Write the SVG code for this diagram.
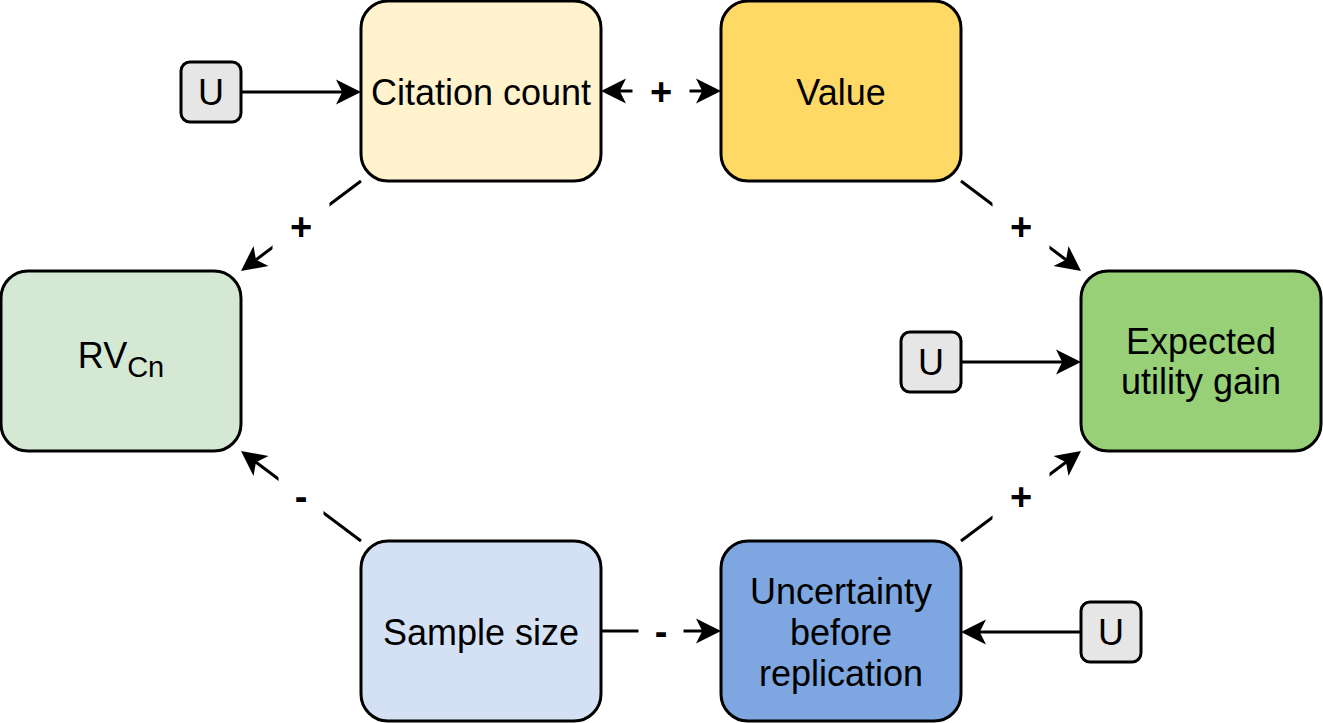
<svg xmlns="http://www.w3.org/2000/svg" width="1323" height="723" viewBox="0 0 1323 723">
  <style>
    .box { stroke: #000; stroke-width: 3; }
    .t { font-family: "Liberation Sans", Arial, sans-serif; font-size: 36px; fill: #000; text-anchor: middle; }
    .edge { stroke: #000; stroke-width: 3; fill: none; }
    .lbl { font-family: "Liberation Sans", Arial, sans-serif; font-size: 38px; font-weight: bold; fill: #000; text-anchor: middle; }
    .lblbg { fill: #fff; }
  </style>
  <defs>
    <marker id="arr" markerUnits="userSpaceOnUse" orient="auto-start-reverse" refX="-18" refY="0" markerWidth="30" markerHeight="30" overflow="visible">
      <path d="M0,0 L-25,-12.5 L-18.75,0 L-25,12.5 Z" fill="#000"/>
    </marker>
  </defs>
  <rect width="1323" height="723" fill="#fff"/>

  <g id="connectors">
    <line class="edge" x1="241" y1="92" x2="343" y2="92" marker-end="url(#arr)"/>
    <line class="edge" x1="619" y1="91" x2="703" y2="91" marker-start="url(#arr)" marker-end="url(#arr)"/>
    <line class="edge" x1="361" y1="181" x2="255.4" y2="260.2" marker-end="url(#arr)"/>
    <line class="edge" x1="961" y1="181" x2="1066.6" y2="260.2" marker-end="url(#arr)"/>
    <line class="edge" x1="361" y1="541" x2="255.4" y2="461.8" marker-end="url(#arr)"/>
    <line class="edge" x1="961" y1="541" x2="1066.6" y2="461.8" marker-end="url(#arr)"/>
    <line class="edge" x1="601" y1="631" x2="703" y2="631" marker-end="url(#arr)"/>
    <line class="edge" x1="961" y1="362" x2="1063" y2="362" marker-end="url(#arr)"/>
    <line class="edge" x1="1081" y1="632" x2="979" y2="632" marker-end="url(#arr)"/>
    <g id="edge-labels">
      <rect class="lblbg" x="632.5" y="66" width="57" height="50"/>
      <text class="lbl" x="661" y="105">+</text>
      <rect class="lblbg" x="272.5" y="201" width="57" height="50"/>
      <text class="lbl" x="301" y="240">+</text>
      <rect class="lblbg" x="992.5" y="201" width="57" height="50"/>
      <text class="lbl" x="1021" y="240">+</text>
      <rect class="lblbg" x="278.5" y="471" width="45" height="50"/>
      <text class="lbl" x="301" y="510">-</text>
      <rect class="lblbg" x="992.5" y="471" width="57" height="50"/>
      <text class="lbl" x="1021" y="510">+</text>
      <rect class="lblbg" x="638.5" y="606" width="45" height="50"/>
      <text class="lbl" x="661" y="645">-</text>
    </g>
  </g>

  <g id="citation-count">
    <rect class="box" x="361" y="1" width="240" height="180" rx="27" fill="#fff2cc"/>
    <text class="t" x="481" y="104.5">Citation count</text>
  </g>
  <g id="value">
    <rect class="box" x="721" y="1" width="240" height="180" rx="27" fill="#ffd966"/>
    <text class="t" x="841" y="104.5">Value</text>
  </g>
  <g id="rv-cn">
    <rect class="box" x="1" y="271" width="240" height="180" rx="27" fill="#d5e8d4"/>
    <text class="t" x="121" y="368">RV<tspan font-size="29" dy="9">Cn</tspan></text>
  </g>
  <g id="expected-utility-gain">
    <rect class="box" x="1081" y="271" width="240" height="180" rx="27" fill="#97d077"/>
    <text class="t" x="1201" y="354">Expected</text>
    <text class="t" x="1201" y="394">utility gain</text>
  </g>
  <g id="sample-size">
    <rect class="box" x="361" y="541" width="240" height="180" rx="27" fill="#d4e1f5"/>
    <text class="t" x="481" y="644.5">Sample size</text>
  </g>
  <g id="uncertainty">
    <rect class="box" x="721" y="541" width="240" height="180" rx="27" fill="#7ea6e0"/>
    <text class="t" x="841" y="603.5">Uncertainty</text>
    <text class="t" x="841" y="644.5">before</text>
    <text class="t" x="841" y="685.5">replication</text>
  </g>
  <g id="u-citation">
    <rect class="box" x="181" y="62" width="60" height="60" rx="9" fill="#e6e6e6"/>
    <text class="t" x="211" y="104.5">U</text>
  </g>
  <g id="u-utility">
    <rect class="box" x="901" y="332" width="60" height="60" rx="9" fill="#e6e6e6"/>
    <text class="t" x="931" y="374.5">U</text>
  </g>
  <g id="u-uncertainty">
    <rect class="box" x="1081" y="602" width="60" height="60" rx="9" fill="#e6e6e6"/>
    <text class="t" x="1111" y="644.5">U</text>
  </g>
</svg>
